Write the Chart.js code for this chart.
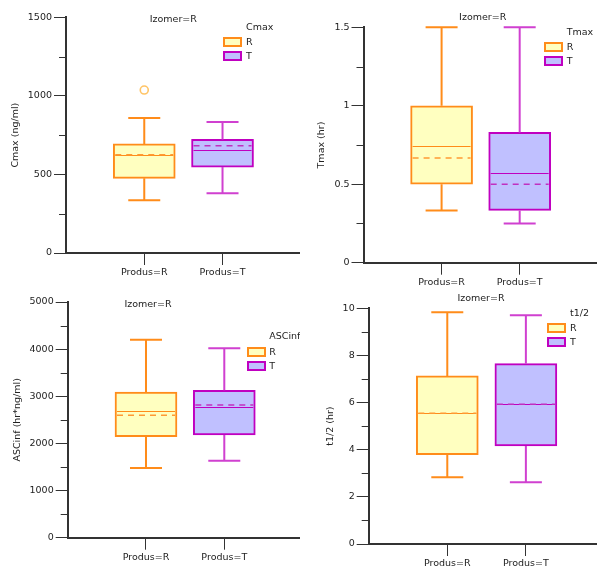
<!DOCTYPE html>
<html>
<head>
<meta charset="utf-8">
<script src="https://cdn.jsdelivr.net/npm/chart.js@4.4.1/dist/chart.umd.min.js"></script>
<style>
  html, body { margin: 0; padding: 0; background: #fff; }
  body { width: 597px; height: 566px; position: relative; overflow: hidden;
         font-family: "DejaVu Sans", sans-serif; font-size: 9.5px; color: #222; }
  .panel { position: absolute; overflow: hidden; }
  .panel canvas { position: absolute; left: 0; top: 0; }
  .txt { position: absolute; line-height: 12px; white-space: nowrap; }
  .ctr { transform: translateX(-50%); }
  .lbox { position: absolute; box-sizing: border-box; width: 19px; height: 10px; border: 2px solid; }
</style>
</head>
<body>
<div class="panel" id="p1" style="left:0;top:0;width:300px;height:283px"><canvas id="c1" width="300" height="283"></canvas></div>
<div class="panel" id="p2" style="left:300px;top:0;width:297px;height:295px"><canvas id="c2" width="297" height="295"></canvas></div>
<div class="panel" id="p3" style="left:0;top:283px;width:300px;height:295px"><canvas id="c3" width="300" height="295"></canvas></div>
<div class="panel" id="p4" style="left:300px;top:283px;width:297px;height:300px"><canvas id="c4" width="297" height="300"></canvas></div>
<script>
// ---------------- data ----------------
const categories = ['Produs=R', 'Produs=T'];
const seriesNames = ['R', 'T'];
const groupTitle = 'Izomer=R';

// Cmax (ng/ml)
const cmaxMin  = [335, 380];
const cmaxQ1   = [475, 547];
const cmaxMed  = [622, 653];
const cmaxQ3   = [694, 723];
const cmaxMax  = [859, 834];
const cmaxMean = [625, 683];
const cmaxOut  = [[1037], []];
const cmaxTicks = [0, 500, 1000, 1500];

// Tmax (hr)
const tmaxMin  = [0.333, 0.25];
const tmaxQ1   = [0.5, 0.333];
const tmaxMed  = [0.742, 0.572];
const tmaxQ3   = [1.0, 0.83];
const tmaxMax  = [1.5, 1.5];
const tmaxMean = [0.667, 0.5];
const tmaxOut  = [[], []];
const tmaxTicks = [0, 0.5, 1, 1.5];

// ASCinf (hr*ng/ml)
const aucMin  = [1480, 1630];
const aucQ1   = [2143, 2178];
const aucMed  = [2695, 2779];
const aucQ3   = [3091, 3127];
const aucMax  = [4200, 4018];
const aucMean = [2596, 2815];
const aucOut  = [[], []];
const aucTicks = [0, 1000, 2000, 3000, 4000, 5000];

// t1/2 (hr)
const thalfMin  = [2.83, 2.62];
const thalfQ1   = [3.79, 4.16];
const thalfMed  = [5.55, 5.93];
const thalfQ3   = [7.13, 7.65];
const thalfMax  = [9.83, 9.70];
const thalfMean = [5.55, 5.93];
const thalfOut  = [[], []];
const thalfTicks = [0, 2, 4, 6, 8, 10];

// ---------------- styles ----------------
const FONT = { family: 'DejaVu Sans', size: 9.5 };
const AXIS = '#333333';
const fillCol   = ['#FFFFC0', '#C0C0FF'];
const borderCol = ['#FF8C1A', '#C000C0'];
const whiskCol  = ['#FF8C1A', '#D040D0'];
const meanCol   = ['#FF9A33', '#C030C0'];
const outCol    = '#FFC466';
const BOX_W = 62;

Chart.defaults.color = '#222';
Chart.defaults.font.family = FONT.family;
Chart.defaults.font.size = FONT.size;

const boxPlugin = {
  id: 'boxExtras',
  afterDatasetsDraw(chart, args, o) {
    const ctx = chart.ctx, xs = chart.scales.x, ys = chart.scales.y;
    ctx.save();
    for (let i = 0; i < categories.length; i++) {
      const x = xs.getPixelForValue(i + 1);
      const yMax = ys.getPixelForValue(o.max[i]), yMin = ys.getPixelForValue(o.min[i]);
      const yQ3 = ys.getPixelForValue(o.q3[i]), yQ1 = ys.getPixelForValue(o.q1[i]);
      // whiskers
      ctx.strokeStyle = whiskCol[i]; ctx.lineWidth = 2; ctx.setLineDash([]);
      ctx.beginPath();
      ctx.moveTo(x, yQ3); ctx.lineTo(x, yMax);
      ctx.moveTo(x, yQ1); ctx.lineTo(x, yMin);
      ctx.moveTo(x - 16, yMax); ctx.lineTo(x + 16, yMax);
      ctx.moveTo(x - 16, yMin); ctx.lineTo(x + 16, yMin);
      ctx.stroke();
      // median
      const yMed = ys.getPixelForValue(o.med[i]);
      ctx.strokeStyle = borderCol[i]; ctx.lineWidth = 1;
      ctx.beginPath();
      ctx.moveTo(x - BOX_W / 2 + 2, Math.round(yMed) + 0.5); ctx.lineTo(x + BOX_W / 2 - 2, Math.round(yMed) + 0.5);
      ctx.stroke();
      // mean (dashed)
      const yMean = ys.getPixelForValue(o.mean[i]);
      ctx.strokeStyle = meanCol[i]; ctx.lineWidth = 1.6; ctx.setLineDash([6, 5]);
      ctx.beginPath();
      ctx.moveTo(x - BOX_W / 2 + 2, yMean); ctx.lineTo(x + BOX_W / 2 - 2, yMean);
      ctx.stroke();
      ctx.setLineDash([]);
      // outliers
      ctx.strokeStyle = outCol; ctx.lineWidth = 1.6;
      for (const v of o.out[i]) {
        ctx.beginPath();
        ctx.arc(x, ys.getPixelForValue(v), 4, 0, Math.PI * 2);
        ctx.stroke();
      }
    }
    ctx.restore();
  },
  afterDraw(chart, args, o) {
    // minor ticks on the value axis
    const ctx = chart.ctx, ys = chart.scales.y;
    const left = chart.chartArea.left;
    ctx.save();
    ctx.strokeStyle = AXIS; ctx.lineWidth = 1;
    for (const t of ys.ticks) {
      if (o.major.some(m => Math.abs(m - t.value) < 1e-9)) continue;
      const y = Math.round(ys.getPixelForValue(t.value)) + 0.5;
      ctx.beginPath(); ctx.moveTo(left - 7, y); ctx.lineTo(left, y); ctx.stroke();
    }
    ctx.restore();
  }
};

function addText(panel, text, x, cy, center) {
  const d = document.createElement('div');
  d.className = 'txt' + (center ? ' ctr' : '');
  d.textContent = text;
  d.style.left = x + 'px';
  d.style.top = (cy - 6) + 'px';
  panel.appendChild(d);
}
function addBox(panel, i, x, y) {
  const d = document.createElement('div');
  d.className = 'lbox';
  d.style.left = x + 'px'; d.style.top = y + 'px';
  d.style.background = fillCol[i]; d.style.borderColor = borderCol[i];
  panel.appendChild(d);
}

function makePanel(p) {
  const panel = document.getElementById(p.panel);
  const datasets = seriesNames.map((name, i) => ({
    label: name,
    data: [{ x: i + 1, y: [p.q1[i], p.q3[i]] }],
    backgroundColor: fillCol[i],
    borderColor: borderCol[i],
    borderWidth: 2,
    borderSkipped: false,
    barThickness: BOX_W,
    grouped: false
  }));
  new Chart(document.getElementById(p.canvas), {
    type: 'bar',
    data: { datasets },
    plugins: [boxPlugin],
    options: {
      responsive: false,
      animation: false,
      events: [],
      layout: { padding: { left: 2, top: p.top, right: 0, bottom: p.padBottom } },
      plugins: {
        legend: { display: false },
        tooltip: { enabled: false },
        boxExtras: { min: p.min, q1: p.q1, med: p.med, q3: p.q3, max: p.max, mean: p.mean, out: p.out, major: p.major }
      },
      scales: {
        x: {
          type: 'linear', min: 0, max: p.xMax, offset: false,
          afterBuildTicks: s => { s.ticks = categories.map((c, i) => ({ value: i + 1 })); },
          afterFit: s => { s.height = 30; s.paddingLeft = 0; s.paddingRight = 0; },
          ticks: { callback: v => categories[v - 1] || '', autoSkip: false, maxRotation: 0, padding: 2, font: FONT, color: '#222' },
          grid: { offset: false, drawOnChartArea: false, drawTicks: true, tickLength: 12, tickColor: AXIS, tickWidth: 1 },
          border: { display: true, color: AXIS, width: 2 }
        },
        y: {
          min: 0, max: p.yMax,
          afterBuildTicks: s => { const t = []; for (let k = 0; k <= Math.round(p.yMax / p.minor); k++) t.push({ value: +(k * p.minor).toFixed(6) }); s.ticks = t; },
          afterFit: s => { s.width = p.axisX - 2; s.paddingTop = 0; s.paddingBottom = 0; },
          ticks: {
            callback: v => p.major.some(m => Math.abs(m - v) < 1e-9) ? String(v) : '',
            padding: 2, font: FONT, color: '#222', autoSkip: false
          },
          grid: {
            drawOnChartArea: false, drawTicks: true, tickLength: 12, tickWidth: 1,
            tickColor: c => (c.tick && p.major.some(m => Math.abs(m - c.tick.value) < 1e-9)) ? AXIS : 'rgba(0,0,0,0)'
          },
          border: { display: true, color: AXIS, width: 2 },
          title: { display: true, text: p.yTitle, font: FONT, color: '#222', padding: { top: p.titlePad, bottom: 0 } }
        }
      }
    }
  });
  addText(panel, groupTitle, p.izo[0], p.izo[1], true);
  addText(panel, p.legTitle, p.leg.tx, p.leg.ty, false);
  seriesNames.forEach((n, i) => {
    addBox(panel, i, p.leg.bx, p.leg.by[i]);
    addText(panel, n, p.leg.tx, p.leg.by[i] + 5, false);
  });
}

makePanel({ panel: 'p1', canvas: 'c1', min: cmaxMin, q1: cmaxQ1, med: cmaxMed, q3: cmaxQ3, max: cmaxMax, mean: cmaxMean, out: cmaxOut,
  major: cmaxTicks, minor: 250, yMax: 1500, xMax: 2.99, axisX: 66, top: 17.3, padBottom: 0, titlePad: 7.8,
  yTitle: 'Cmax (ng/ml)', legTitle: 'Cmax', izo: [173.3, 19],
  leg: { tx: 246, ty: 27.3, bx: 223.3, by: [36.7, 50.7] } });

makePanel({ panel: 'p2', canvas: 'c2', min: tmaxMin, q1: tmaxQ1, med: tmaxMed, q3: tmaxQ3, max: tmaxMax, mean: tmaxMean, out: tmaxOut,
  major: tmaxTicks, minor: 0.25, yMax: 1.5, xMax: 2.99, axisX: 63.5, top: 27.3, padBottom: 2.3, titlePad: 14.3,
  yTitle: 'Tmax (hr)', legTitle: 'Tmax', izo: [182.7, 17.3],
  leg: { tx: 266.7, ty: 32.3, bx: 243.7, by: [42, 56] } });

makePanel({ panel: 'p3', canvas: 'c3', min: aucMin, q1: aucQ1, med: aucMed, q3: aucQ3, max: aucMax, mean: aucMean, out: aucOut,
  major: aucTicks, minor: 500, yMax: 5000, xMax: 2.967, axisX: 67.7, top: 19, padBottom: 10.3, titlePad: 9.8,
  yTitle: 'ASCinf (hr*ng/ml)', legTitle: 'ASCinf', izo: [148, 20.7],
  leg: { tx: 269.3, ty: 53.3, bx: 246.7, by: [63.7, 77.7] } });

makePanel({ panel: 'p4', canvas: 'c4', min: thalfMin, q1: thalfQ1, med: thalfMed, q3: thalfQ3, max: thalfMax, mean: thalfMean, out: thalfOut,
  major: thalfTicks, minor: 1, yMax: 10, xMax: 2.905, axisX: 68.7, top: 25.3, padBottom: 9, titlePad: 22.8,
  yTitle: 't1/2 (hr)', legTitle: 't1/2', izo: [181, 15],
  leg: { tx: 270, ty: 30, bx: 247, by: [40, 54.3] } });
</script>
</body>
</html>
